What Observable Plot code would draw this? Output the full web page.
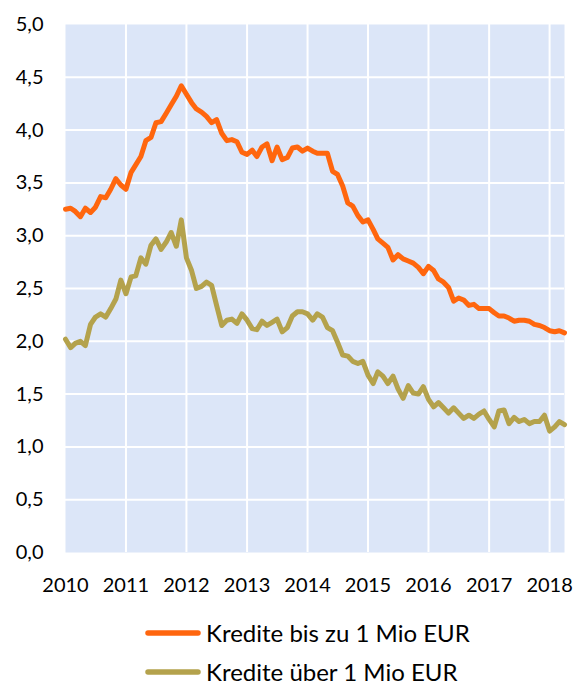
<!DOCTYPE html>
<html>
<head>
<meta charset="utf-8">
<script src="https://cdn.jsdelivr.net/npm/d3@7"></script>
<script src="https://cdn.jsdelivr.net/npm/@observablehq/plot@0.6"></script>
<style>
  html, body { margin: 0; padding: 0; background: #fff; }
  body { width: 577px; height: 685px; overflow: hidden; font-family: Lato, "Open Sans", sans-serif; }
  #legend { position: relative; height: 85px; }
  .item { position: absolute; left: 145px; display: flex; align-items: center; font-size: 24px; line-height: 24px; height: 24px; color: #000; }
  .item span { display: inline-block; line-height: 24px; height: 24px; }
  .item svg { margin-right: 5px; }
</style>
</head>
<body>
<div id="chart"></div>
<div id="legend"></div>
<script>
// Monthly data, Jan 2010 – Apr 2018
const startMonth = "2010-01";
const seriesNames = ["Kredite bis zu 1 Mio EUR", "Kredite über 1 Mio EUR"];
const seriesColors = ["#ff660e", "#b4a24c"];
const yearTicks = [2010, 2011, 2012, 2013, 2014, 2015, 2016, 2017, 2018];
const yTicks = [0, 0.5, 1, 1.5, 2, 2.5, 3, 3.5, 4, 4.5, 5];

const small = [
  3.25, 3.26, 3.23, 3.18, 3.26, 3.22, 3.27, 3.37, 3.36, 3.44, 3.54, 3.48,
  3.44, 3.60, 3.67, 3.75, 3.90, 3.93, 4.07, 4.08, 4.16, 4.24, 4.32, 4.42,
  4.34, 4.26, 4.20, 4.17, 4.13, 4.07, 4.10, 3.97, 3.90, 3.91, 3.89, 3.79,
  3.77, 3.81, 3.75, 3.84, 3.87, 3.71, 3.84, 3.72, 3.74, 3.83, 3.84, 3.80,
  3.83, 3.80, 3.78, 3.78, 3.78, 3.61, 3.58, 3.47, 3.31, 3.28, 3.19, 3.13,
  3.15, 3.06, 2.97, 2.93, 2.89, 2.77, 2.82, 2.78, 2.76, 2.74, 2.70, 2.64,
  2.71, 2.67, 2.59, 2.56, 2.51, 2.38, 2.41, 2.39, 2.34, 2.35, 2.31, 2.31,
  2.31, 2.27, 2.24, 2.24, 2.22, 2.19, 2.20, 2.20, 2.19, 2.16, 2.15, 2.13,
  2.10, 2.09, 2.10, 2.08
];
const large = [
  2.02, 1.94, 1.98, 2.00, 1.96, 2.16, 2.23, 2.26, 2.23, 2.31, 2.40, 2.58,
  2.45, 2.61, 2.62, 2.79, 2.73, 2.91, 2.97, 2.87, 2.94, 3.03, 2.90, 3.15,
  2.79, 2.67, 2.50, 2.52, 2.56, 2.53, 2.34, 2.15, 2.20, 2.21, 2.17, 2.26,
  2.20, 2.12, 2.11, 2.19, 2.15, 2.18, 2.21, 2.09, 2.13, 2.24, 2.28, 2.28,
  2.26, 2.20, 2.26, 2.23, 2.13, 2.10, 1.99, 1.87, 1.86, 1.81, 1.79, 1.81,
  1.68, 1.60, 1.71, 1.67, 1.60, 1.67, 1.55, 1.46, 1.58, 1.51, 1.50, 1.57,
  1.45, 1.38, 1.42, 1.37, 1.32, 1.37, 1.32, 1.27, 1.30, 1.27, 1.31, 1.34,
  1.26, 1.19, 1.34, 1.35, 1.22, 1.28, 1.24, 1.26, 1.22, 1.24, 1.24, 1.30,
  1.15, 1.19, 1.24, 1.21
];

const start = new Date(startMonth + "-01T00:00:00Z");
const dates = small.map((_, i) => d3.utcMonth.offset(start, i));
const rows = [];
[small, large].forEach((arr, s) => arr.forEach((v, i) => rows.push({date: dates[i], value: v, series: seriesNames[s]})));

const yearDates = yearTicks.map(y => new Date(Date.UTC(y, 0, 1)));
const fmt = d => d.toFixed(1).replace(".", ",");

const chart = Plot.plot({
  width: 577,
  height: 600,
  marginLeft: 65,
  marginRight: 13,
  marginTop: 24,
  marginBottom: 48,
  style: {fontFamily: "Lato, 'Open Sans', sans-serif", fontSize: "20px", color: "#000", background: "#fff"},
  x: {type: "utc", domain: [dates[0], dates[dates.length - 1]], label: null},
  y: {domain: [0, 5], label: null},
  color: {domain: seriesNames, range: seriesColors},
  marks: [
    Plot.frame({fill: "#dce6f8", stroke: null}),
    Plot.ruleX(yearDates.slice(1), {stroke: "#fff", strokeWidth: 2}),
    Plot.ruleY(yTicks.slice(1, -1), {stroke: "#fff", strokeWidth: 2}),
    Plot.axisY(yTicks, {tickSize: 0, tickPadding: 22, tickFormat: fmt, fontSize: 20, label: null}),
    Plot.axisX(yearDates, {tickSize: 0, tickPadding: 25, tickFormat: d => String(d.getUTCFullYear()), fontSize: 20, label: null}),
    Plot.lineY(rows, {x: "date", y: "value", stroke: "series", z: "series", strokeWidth: 5, strokeLinejoin: "round", strokeLinecap: "round"})
  ]
});
document.getElementById("chart").appendChild(chart);

const legend = document.getElementById("legend");
seriesNames.forEach((name, i) => {
  const item = document.createElement("div");
  item.className = "item";
  item.style.top = (i === 0 ? 21 : 60) + "px";
  item.innerHTML = `<svg width="56" height="8"><line x1="3" y1="4" x2="53" y2="4" stroke="${seriesColors[i]}" stroke-width="5.5" stroke-linecap="round"/></svg><span>${name}</span>`;
  legend.appendChild(item);
});
</script>
</body>
</html>
